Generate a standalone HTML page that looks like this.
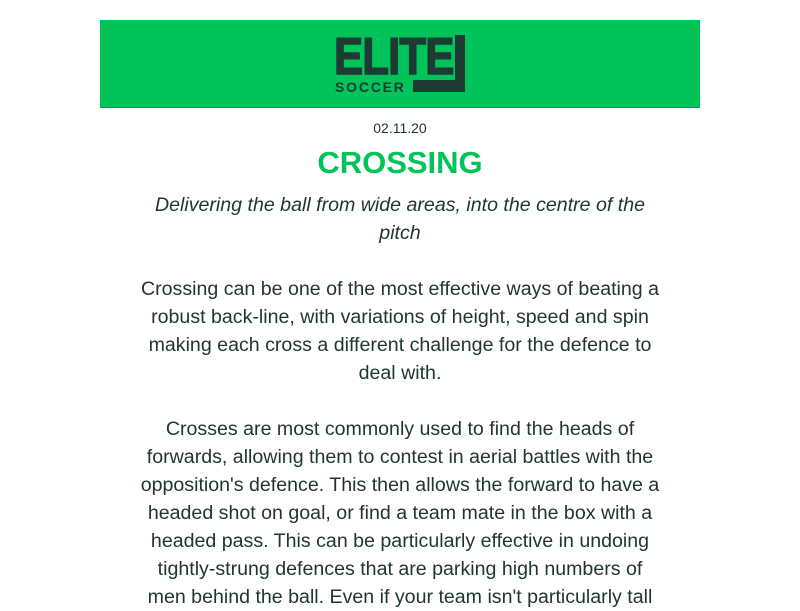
<!DOCTYPE html>
<html><head><meta charset="utf-8"><style>
body{margin:0;background:#fff;font-family:"Liberation Sans",Arial,sans-serif;color:#1e3530;}
.wrap{width:600px;margin:20px auto 0;}
.hdr{background:#00c35a;height:87px;position:relative;border-bottom:1px solid #0a9c4b;}
.elite{position:absolute;left:234px;top:7px;font-size:52px;font-weight:bold;color:#1d3a33;letter-spacing:-1px;transform:scaleX(0.84);transform-origin:left;font-family:"Liberation Sans",sans-serif;-webkit-text-stroke:1.5px #1d3a33;}
.soccer{position:absolute;left:235px;top:59px;font-size:14px;font-weight:bold;color:#1d3a33;letter-spacing:1.8px;}
.bv{position:absolute;left:355px;top:15px;width:10px;height:57px;background:#1d3a33;}
.bh{position:absolute;left:313px;top:60px;width:52px;height:12px;background:#1d3a33;}
.date{text-align:center;font-size:14px;margin-top:12px;}
h1{text-align:center;color:#00c35a;font-size:31px;margin:9px 0 0;font-weight:bold;}
.sub{text-align:center;font-style:italic;font-size:19.6px;line-height:28px;margin:10px 50px 0;}
p{text-align:center;font-size:19.6px;line-height:28px;margin:28px 37px 0;}
</style></head><body>
<div class="wrap">
<div class="hdr">
<div class="elite">ELITE</div>
<div class="soccer">SOCCER</div>
<div class="bv"></div>
<div class="bh"></div>
</div>
<div class="date">02.11.20</div>
<h1>CROSSING</h1>
<div class="sub">Delivering the ball from wide areas, into the centre of the pitch</div>
<p>Crossing can be one of the most effective ways of beating a robust back-line, with variations of height, speed and spin making each cross a different challenge for the defence to deal with.</p>
<p>Crosses are most commonly used to find the heads of forwards, allowing them to contest in aerial battles with the opposition's defence. This then allows the forward to have a headed shot on goal, or find a team mate in the box with a headed pass. This can be particularly effective in undoing tightly-strung defences that are parking high numbers of men behind the ball. Even if your team isn't particularly tall</p>
</div>
</body></html>
